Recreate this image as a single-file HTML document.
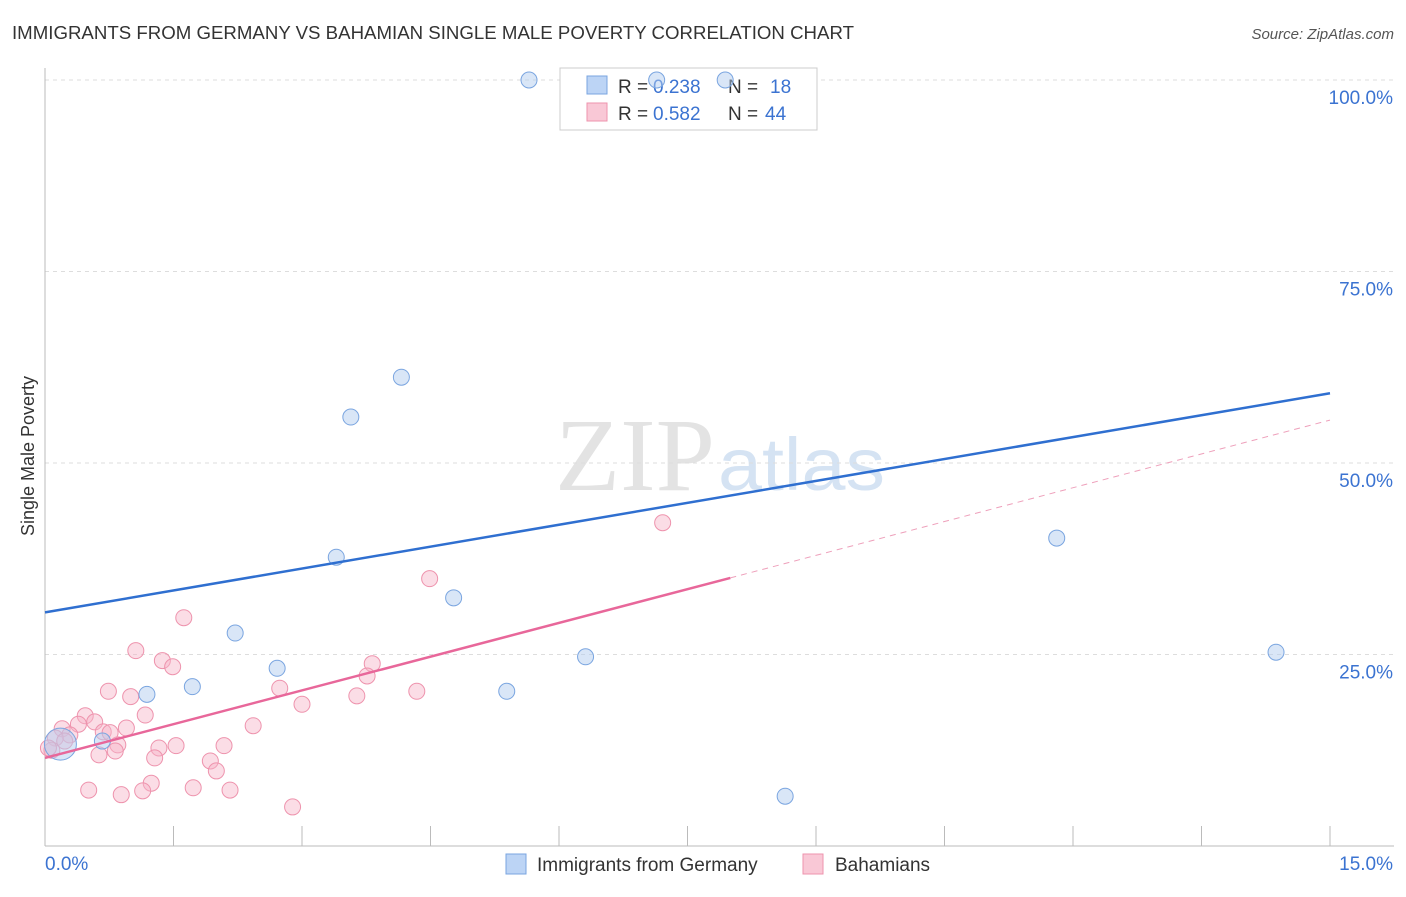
<!DOCTYPE html>
<html><head><meta charset="utf-8"><style>
body{margin:0;background:#fff;font-family:"Liberation Sans",sans-serif}
</style></head><body>
<svg id="chart" width="1406" height="892" xmlns="http://www.w3.org/2000/svg">
<text x="12" y="39" font-size="18" fill="#333" textLength="842" lengthAdjust="spacingAndGlyphs">IMMIGRANTS FROM GERMANY VS BAHAMIAN SINGLE MALE POVERTY CORRELATION CHART</text>
<text x="1394" y="39" font-size="15" fill="#555" text-anchor="end" font-style="italic">Source: ZipAtlas.com</text>
<text x="555" y="490" font-size="104" fill="#e3e3e3" font-family="Liberation Serif" textLength="160" lengthAdjust="spacingAndGlyphs">ZIP</text>
<text x="718" y="490" font-size="74" fill="#d5e3f3" textLength="167" lengthAdjust="spacingAndGlyphs">atlas</text>
<g id="grid"></g>
<g id="axes"></g>
<g>
<rect x="560" y="68" width="257" height="62" fill="#fff" stroke="#ccc"/>
<rect x="587" y="76" width="20" height="18" fill="#bcd4f5" stroke="#7aa5e0"/>
<text x="618" y="93" font-size="19" fill="#333">R =</text>
<text x="653" y="93" font-size="19" fill="#3b73d1">0.238</text>
<text x="728" y="93" font-size="19" fill="#333">N =</text>
<text x="770" y="93" font-size="19" fill="#3b73d1">18</text>
<rect x="587" y="103" width="20" height="18" fill="#f9c8d6" stroke="#ee93ad"/>
<text x="618" y="120" font-size="19" fill="#333">R =</text>
<text x="653" y="120" font-size="19" fill="#3b73d1">0.582</text>
<text x="728" y="120" font-size="19" fill="#333">N =</text>
<text x="765" y="120" font-size="19" fill="#3b73d1">44</text>
</g>
<g id="marks"></g>
<text transform="translate(34,456) rotate(-90)" font-size="18" fill="#333" text-anchor="middle">Single Male Poverty</text>
<g>
<rect x="506" y="854" width="20" height="20" fill="#bcd4f5" stroke="#7aa5e0"/>
<text x="537" y="871" font-size="19" fill="#333">Immigrants from Germany</text>
<rect x="803" y="854" width="20" height="20" fill="#f9c8d6" stroke="#ee93ad"/>
<text x="835" y="871" font-size="19" fill="#333">Bahamians</text>
</g>
</svg>
<script>
const xTicks=[0,1.5,3,4.5,6,7.5,9,10.5,12,13.5,15];
const yTicks=[25,50,75,100];
const yTickLabels=["25.0%","50.0%","75.0%","100.0%"];
const blueX=[5.65,7.14,7.94,4.16,3.57,3.40,4.77,2.22,2.71,1.72,1.19,5.39,6.31,8.64,11.81,14.37,0.67,0.18];
const blueY=[100,100,100,61.2,56,37.7,32.4,27.8,23.2,20.8,19.8,20.2,24.7,6.5,40.2,25.3,13.7,13.3];
const blueR=[8,8,8,8,8,8,8,8,8,8,8,8,8,8,8,8,8,16];
const pinkX=[7.21,4.49,1.62,1.06,1.37,1.49,3.82,3.76,2.74,0.74,1.0,3.64,4.34,3.0,1.17,0.47,0.58,0.39,0.2,0.95,2.43,0.68,0.29,0.12,0.85,1.53,1.33,2.09,0.82,0.08,0.63,1.28,1.93,2.0,1.24,1.73,0.51,1.14,2.16,0.89,2.89,0.23,0.04,0.76];
const pinkY=[42.2,34.9,29.8,25.5,24.2,23.4,23.8,22.2,20.6,20.2,19.5,19.6,20.2,18.5,17.1,17.0,16.2,15.9,15.3,15.4,15.7,14.9,14.5,14.1,13.2,13.1,12.8,13.1,12.4,12.5,11.9,11.5,11.1,9.8,8.2,7.6,7.3,7.2,7.3,6.7,5.1,13.7,12.8,14.8];
const blueLine=[30.5,59.1];
const pinkLine=[11.5,35.0,55.6];
const NS="http://www.w3.org/2000/svg";
const X=v=>45+v*(1285/15), Y=v=>846-v*7.66;
function mk(p,t,a){const e=document.createElementNS(NS,t);for(const k in a)e.setAttribute(k,a[k]);document.getElementById(p).appendChild(e);return e;}
yTicks.forEach((t,i)=>{
 const l=mk('grid','line',{x1:45,x2:1394,y1:Y(t),y2:Y(t),stroke:'#ddd','stroke-dasharray':'4,4'});
 
 
 const tx=mk('grid','text',{x:1393,y:Y(t)+24,'font-size':19,fill:'#3b73d1','text-anchor':'end'});
 tx.textContent=yTickLabels[i];
 
 
});
const ax=mk('axes','line',{x1:45,x2:1394,y1:846,y2:846,stroke:'#bbb'});


const ay=mk('axes','line',{x1:45,x2:45,y1:68,y2:846,stroke:'#bbb'});


xTicks.forEach(t=>{const l=mk('axes','line',{x1:X(t),x2:X(t),y1:826,y2:846,stroke:'#bbb'});
 
 });
let a=mk('axes','text',{x:45,y:870,'font-size':19,fill:'#3b73d1'});a.textContent='0.0%';


a=mk('axes','text',{x:1393,y:870,'font-size':19,fill:'#3b73d1','text-anchor':'end'});a.textContent='15.0%';


pinkX.forEach((x,i)=>{const c=mk('marks','circle',{cx:X(x),cy:Y(pinkY[i]),r:8,fill:'rgba(247,180,200,0.45)',stroke:'#ee93ad','stroke-width':1});
 
 });
blueX.forEach((x,i)=>{const c=mk('marks','circle',{cx:X(x),cy:Y(blueY[i]),r:blueR[i],fill:'rgba(180,205,240,0.5)',stroke:'#7aa5e0','stroke-width':1});
 
 });
let l=mk('marks','line',{x1:X(0),y1:Y(blueLine[0]),x2:X(15),y2:Y(blueLine[1]),stroke:'#2f6fd0','stroke-width':2.5});


l=mk('marks','line',{x1:X(0),y1:Y(pinkLine[0]),x2:X(8),y2:Y(pinkLine[1]),stroke:'#e8679a','stroke-width':2.5});


l=mk('marks','line',{x1:X(8),y1:Y(pinkLine[1]),x2:X(15),y2:Y(pinkLine[2]),stroke:'#eea0bb','stroke-width':1,'stroke-dasharray':'6,5'});


</script>
</body></html>
